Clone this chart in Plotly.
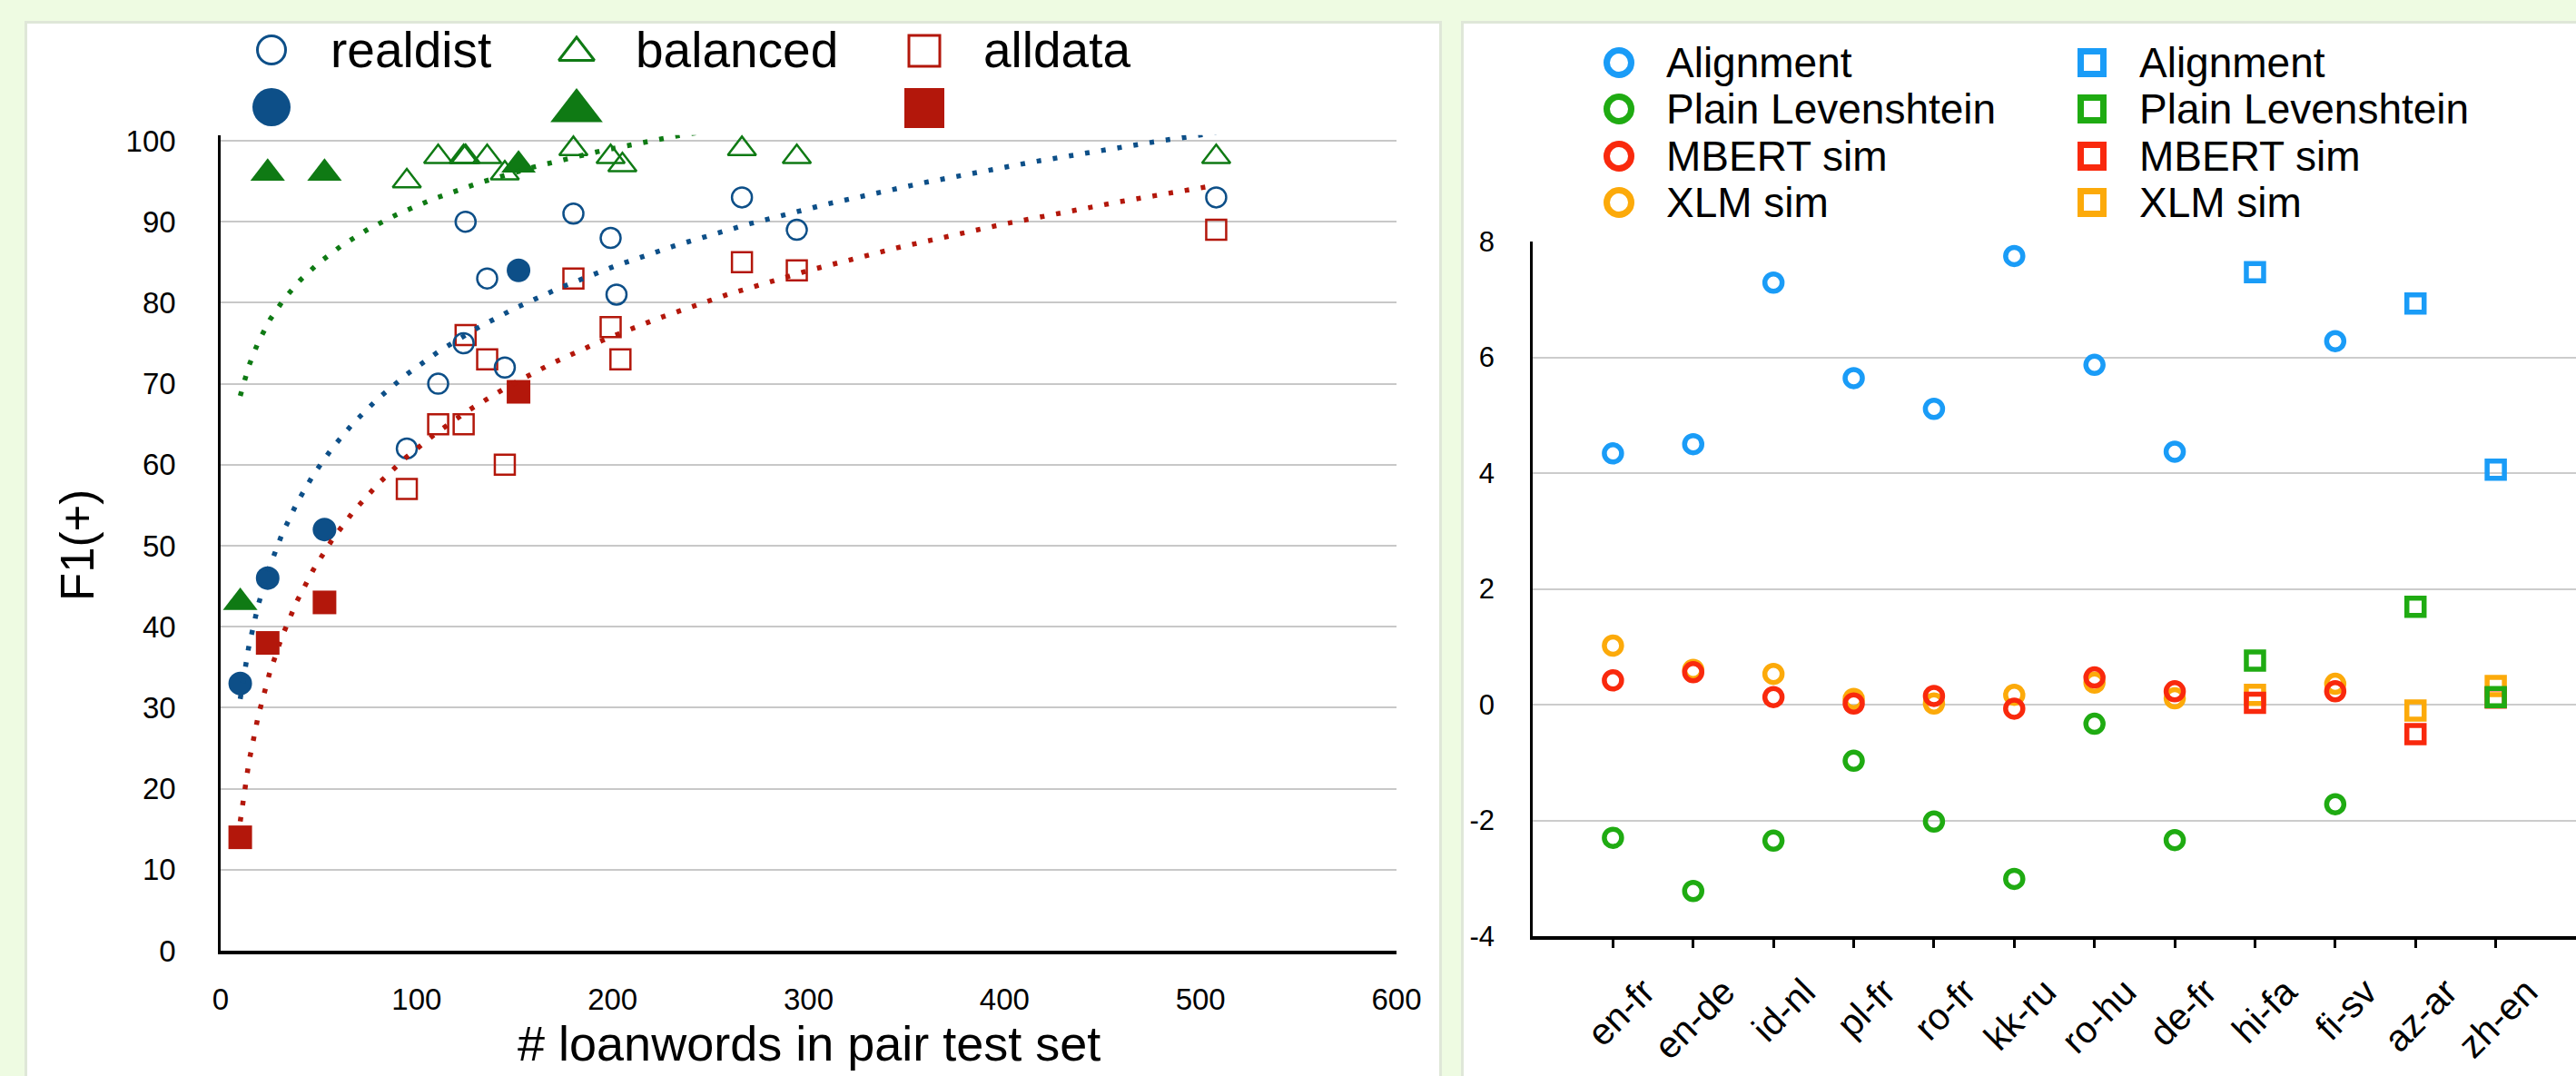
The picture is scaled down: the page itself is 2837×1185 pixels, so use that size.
import numpy as np
import plotly.graph_objects as go

W, H = 2837, 1185
FONT = "Liberation Sans, Arial, Helvetica, sans-serif"

# ---------------- left panel data ----------------
realdist_open_x = [95, 111, 124, 125, 136, 145, 180, 199, 202, 266, 294, 508]
realdist_open_y = [62, 70, 75, 90, 83, 72, 91, 88, 81, 93, 89, 93]
realdist_fill_x = [10, 24, 53, 152]
realdist_fill_y = [33, 46, 52, 84]

balanced_open_x = [95, 111, 124, 125, 136, 145, 180, 199, 205, 266, 294, 508]
balanced_open_y = [95, 98, 98, 98, 98, 96, 99, 98, 97, 99, 98, 98]
balanced_fill_x = [10, 24, 53, 152]
balanced_fill_y = [43, 96, 96, 97]

alldata_open_x = [95, 111, 124, 125, 136, 145, 180, 199, 204, 266, 294, 508]
alldata_open_y = [57, 65, 65, 76, 73, 60, 83, 77, 73, 85, 84, 89]
alldata_fill_x = [10, 24, 53, 152]
alldata_fill_y = [14, 38, 43, 69]

# logarithmic trendlines y = a + b*ln(x), coefficients
trend_realdist = [-9.9, 17.8]
trend_balanced = [45.0, 10.2]
trend_alldata = [-30.1, 20.0]
trend_x_span = [10, 508]

left_xticks = [0, 100, 200, 300, 400, 500, 600]
left_yticks = [0, 10, 20, 30, 40, 50, 60, 70, 80, 90, 100]

# ---------------- right panel data ----------------
pairs = ["en-fr", "en-de", "id-nl", "pl-fr", "ro-fr", "kk-ru", "ro-hu", "de-fr",
         "hi-fa", "fi-sv", "az-ar", "zh-en"]
square_pairs = ["hi-fa", "az-ar", "zh-en"]
alignment = [4.34, 4.50, 7.29, 5.64, 5.11, 7.75, 5.87, 4.37, 7.47, 6.28, 6.93, 4.06]
plain_lev = [-2.30, -3.22, -2.35, -0.97, -2.02, -3.01, -0.33, -2.34, 0.76, -1.72, 1.69, 0.13]
mbert_sim = [0.42, 0.56, 0.13, 0.02, 0.15, -0.07, 0.47, 0.23, 0.03, 0.23, -0.51, 0.12]
xlm_sim = [1.02, 0.60, 0.53, 0.10, 0.02, 0.17, 0.38, 0.11, 0.17, 0.36, -0.10, 0.32]
right_yticks = [-4, -2, 0, 2, 4, 6, 8]

BLUE, GREEN, RED = "#0d4f88", "#0f7a14", "#b3170b"
C_ALIGN, C_PLAIN, C_MBERT, C_XLM = "#1a9cf7", "#1fab12", "#f9290d", "#fcaa0a"
BG = "#eefbe2"


def fx(px):
    return px / W


def fy(py):
    return 1 - py / H


fig = go.Figure()

# ---- left panel markers ----
def add_left(x, y, symbol, size, color, lw=0):
    fig.add_trace(go.Scatter(
        x=x, y=y, mode="markers", xaxis="x", yaxis="y", cliponaxis=False,
        marker=dict(symbol=symbol, size=size, color=color,
                    line=dict(width=lw, color=color))))


add_left(alldata_open_x, alldata_open_y, "square-open", 22, RED, 2.5)
add_left(alldata_fill_x, alldata_fill_y, "square", 26, RED)
add_left(balanced_open_x, balanced_open_y, "triangle-up-open", 27, GREEN, 2.5)
add_left(balanced_fill_x, balanced_fill_y, "triangle-up", 33, GREEN)
add_left(realdist_open_x, realdist_open_y, "circle-open", 22, BLUE, 2.5)
add_left(realdist_fill_x, realdist_fill_y, "circle", 26, BLUE)

tx = np.geomspace(trend_x_span[0], trend_x_span[1], 300)
for coef, color in [(trend_balanced, GREEN), (trend_realdist, BLUE), (trend_alldata, RED)]:
    fig.add_trace(go.Scatter(
        x=tx, y=coef[0] + coef[1] * np.log(tx), mode="lines", xaxis="x", yaxis="y",
        line=dict(color=color, width=5.5, dash="5px,13px"), hoverinfo="skip"))

# ---- right panel markers (draw order: XLM, MBERT, Plain, Alignment) ----
for vals, color in [(xlm_sim, C_XLM), (mbert_sim, C_MBERT), (plain_lev, C_PLAIN), (alignment, C_ALIGN)]:
    cx = [p for p in pairs if p not in square_pairs]
    cy = [v for p, v in zip(pairs, vals) if p not in square_pairs]
    sx = [p for p in pairs if p in square_pairs]
    sy = [v for p, v in zip(pairs, vals) if p in square_pairs]
    fig.add_trace(go.Scatter(x=cx, y=cy, mode="markers", xaxis="x2", yaxis="y2", cliponaxis=False,
                             marker=dict(symbol="circle-open", size=19, color=color,
                                         line=dict(width=5.5, color=color))))
    fig.add_trace(go.Scatter(x=sx, y=sy, mode="markers", xaxis="x2", yaxis="y2", cliponaxis=False,
                             marker=dict(symbol="square-open", size=19, color=color,
                                         line=dict(width=5.5, color=color))))

# ---- legends drawn on a pixel-space overlay ----
left_leg = [("realdist", BLUE, "circle", 299), ("balanced", GREEN, "triangle-up", 635),
            ("alldata", RED, "square", 1018)]
open_sizes = {"circle": 31, "triangle-up": 34, "square": 34}
fill_sizes = {"circle": 42, "triangle-up": 50, "square": 44}
open_dy = {"circle": 55, "triangle-up": 58, "square": 56}
fill_dy = {"circle": 118, "triangle-up": 122, "square": 119}
annotations = []
for name, color, sym, px in left_leg:
    fig.add_trace(go.Scatter(x=[px], y=[open_dy[sym]], mode="markers", xaxis="x3", yaxis="y3",
                             cliponaxis=False,
                             marker=dict(symbol=sym + "-open", size=open_sizes[sym], color=color,
                                         line=dict(width=3, color=color))))
    fig.add_trace(go.Scatter(x=[px], y=[fill_dy[sym]], mode="markers", xaxis="x3", yaxis="y3",
                             cliponaxis=False,
                             marker=dict(symbol=sym, size=fill_sizes[sym], color=color)))
    annotations.append(dict(x=px + 63, y=55, xref="x3", yref="y3", text=name, showarrow=False,
                            xanchor="left", yanchor="middle",
                            font=dict(family=FONT, size=55, color="black")))

right_leg_names = ["Alignment", "Plain Levenshtein", "MBERT sim", "XLM sim"]
right_leg_colors = [C_ALIGN, C_PLAIN, C_MBERT, C_XLM]
row_y = [69, 120, 172, 223]
for col_x, sym, sz in [(1783, "circle-open", 27), (2304, "square-open", 25)]:
    for name, color, ry in zip(right_leg_names, right_leg_colors, row_y):
        fig.add_trace(go.Scatter(x=[col_x], y=[ry], mode="markers", xaxis="x3", yaxis="y3",
                                 cliponaxis=False,
                                 marker=dict(symbol=sym, size=sz, color=color,
                                             line=dict(width=7, color=color))))
        annotations.append(dict(x=col_x + 50, y=ry, xref="x3", yref="y3", text=name,
                                showarrow=False, xanchor="left", yanchor="middle",
                                font=dict(family=FONT, size=46, color="black")))

# axis titles for left panel
annotations.append(dict(x=85, y=601, xref="x3", yref="y3", text="F1(+)", textangle=-90,
                        showarrow=False, xanchor="center", yanchor="middle",
                        font=dict(family=FONT, size=51, color="black")))
annotations.append(dict(x=891, y=1149, xref="x3", yref="y3", text="# loanwords in pair test set",
                        showarrow=False, xanchor="center", yanchor="middle",
                        font=dict(family=FONT, size=54, color="black")))

# cards
shapes = []
for x0, x1 in [(30, 1585), (1612, W + 20)]:
    shapes.append(dict(type="rect", xref="paper", yref="paper", layer="below",
                       x0=fx(x0 - 3), x1=fx(x1 + 3), y0=-0.05, y1=fy(26 - 3),
                       fillcolor="#dfe7d8", line=dict(width=0)))
    shapes.append(dict(type="rect", xref="paper", yref="paper", layer="below",
                       x0=fx(x0), x1=fx(x1), y0=-0.05, y1=fy(26),
                       fillcolor="#ffffff", line=dict(width=0)))

tickfont_l = dict(family=FONT, size=33, color="black")
tickfont_r = dict(family=FONT, size=31, color="black")

fig.update_layout(
    template="none",
    width=W, height=H, margin=dict(l=0, r=0, t=0, b=0, pad=0), autosize=False,
    paper_bgcolor=BG, plot_bgcolor="rgba(0,0,0,0)", showlegend=False,
    shapes=shapes, annotations=annotations,
    xaxis=dict(domain=[fx(243), fx(1538)], range=[0, 600], anchor="y", automargin=False,
               tickvals=left_xticks, ticktext=[str(v) for v in left_xticks],
               showgrid=False, zeroline=False, showline=True, linecolor="black", linewidth=3.5,
               ticks="", tickfont=tickfont_l, ticklabelstandoff=22, fixedrange=True),
    yaxis=dict(domain=[fy(1047), fy(1047 - 100.7 * 8.92)], range=[0, 100.7], anchor="x",
               automargin=False,
               tickvals=left_yticks, ticktext=[str(v) for v in left_yticks],
               showgrid=True, gridcolor="#c8c8c8", gridwidth=2, zeroline=False,
               showline=True, linecolor="black", linewidth=2.5,
               ticks="", tickfont=tickfont_l, ticklabelstandoff=40, fixedrange=True),
    xaxis2=dict(domain=[fx(1688), 1.0], type="category", categoryorder="array",
                categoryarray=pairs, range=[-1, 12], anchor="y2", automargin=False,
                showgrid=False, zeroline=False, showline=True, linecolor="black", linewidth=3.5,
                ticks="outside", ticklen=9, tickwidth=2.5, tickcolor="black",
                tickangle=-45, tickfont=dict(family=FONT, size=41, color="black"),
                ticklabelstandoff=8, ticklabelshift=34, fixedrange=True),
    yaxis2=dict(domain=[fy(1031), fy(266)], range=[-4, 8], anchor="x2", automargin=False,
                tickvals=right_yticks, ticktext=[str(v) for v in right_yticks],
                showgrid=True, gridcolor="#cccccc", gridwidth=2, zeroline=False,
                showline=True, linecolor="black", linewidth=2.5,
                ticks="", tickfont=tickfont_r, ticklabelstandoff=33, fixedrange=True),
    xaxis3=dict(domain=[0, 1], range=[0, W], anchor="y3", visible=False, fixedrange=True),
    yaxis3=dict(domain=[0, 1], range=[H, 0], anchor="x3", visible=False, fixedrange=True),
)

fig.write_html("out.html", config={"displayModeBar": False},
               post_script="document.body.style.margin='0px';"
                           "document.body.style.overflow='hidden';"
                           "document.body.style.background='" + BG + "';")
